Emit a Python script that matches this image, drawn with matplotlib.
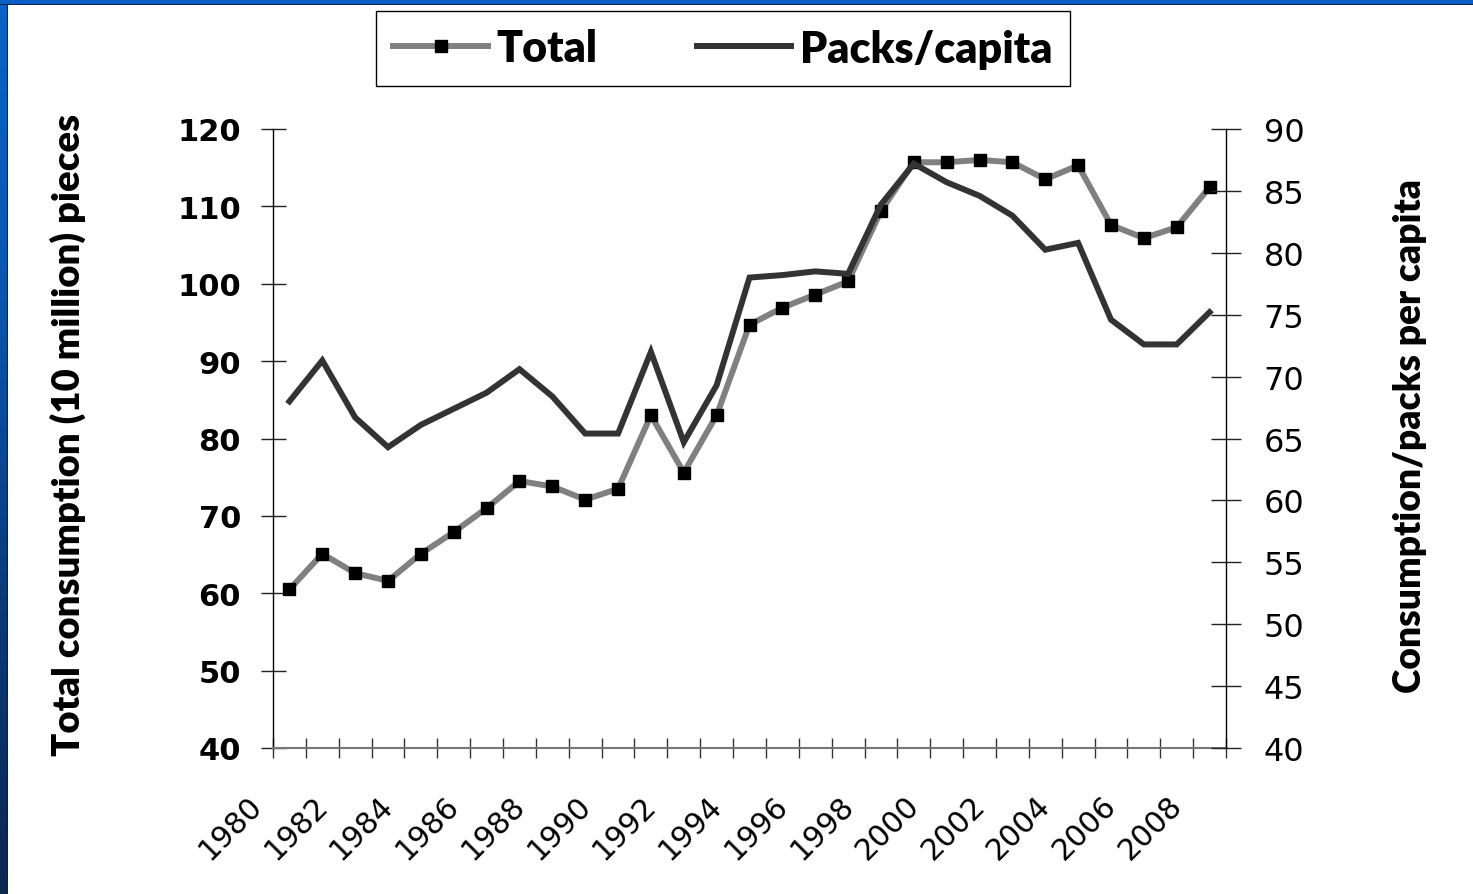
import matplotlib
matplotlib.use('Agg')
import matplotlib.pyplot as plt
import numpy as np
from matplotlib.transforms import blended_transform_factory, ScaledTranslation
from matplotlib.patches import Rectangle
from matplotlib.colors import LinearSegmentedColormap

# ---------------- data ----------------
years = list(range(1980, 2009))
total = [60.5, 65.1, 62.6, 61.6, 65.1, 67.9, 71.0, 74.5, 73.8, 72.1,
         73.5, 83.0, 75.6, 83.0, 94.7, 96.9, 98.6, 100.3, 109.4, 115.7,
         115.7, 116.0, 115.7, 113.5, 115.3, 107.6, 105.9, 107.3, 112.5]
packs = [68.0, 71.3, 66.7, 64.3, 66.1, 67.4, 68.7, 70.6, 68.4, 65.4,
         65.4, 72.0, 64.7, 69.3, 78.0, 78.2, 78.5, 78.3, 83.9, 87.2,
         85.7, 84.6, 83.0, 80.25, 80.8, 74.6, 72.6, 72.6, 75.2]
left_ticks = [40, 50, 60, 70, 80, 90, 100, 110, 120]
right_ticks = [40, 45, 50, 55, 60, 65, 70, 75, 80, 85, 90]
label_total = "Total"
label_packs = "Packs/capita"
ylabel_left = "Total consumption (10 million) pieces"
ylabel_right = "Consumption/packs per capita"

W, H = 1473, 895
fig = plt.figure(figsize=(W / 100, H / 100), dpi=100)
fig.patch.set_facecolor('white')

# slide border decoration
fig.patches.append(Rectangle((0, 1 - 5 / H), 1, 5 / H, transform=fig.transFigure,
                             facecolor='#0b5fc4', edgecolor='none', zorder=0))
fig.patches.append(Rectangle((0, 1 - 6 / H), 1, 1.5 / H, transform=fig.transFigure,
                             facecolor='#0d2550', edgecolor='none', zorder=0))
bax = fig.add_axes([0, 0, 8 / W, 1])
grad = np.linspace(0, 1, 256).reshape(-1, 1)
cmap = LinearSegmentedColormap.from_list('b', ['#0a62c8', '#0a55b0', '#0a3a7a', '#0a2850'])
bax.imshow(grad, aspect='auto', cmap=cmap, extent=[0, 1, 0, 1])
bax.axvline(0.95, color='#0d2040', lw=1.5)
bax.set_axis_off()

# ---------------- main axes ----------------
L, R, T, B = 273, 1226, 130, 749
ax = fig.add_axes([L / W, 1 - B / H, (R - L) / W, (B - T) / H])
ax2 = ax.twinx()
x = np.arange(len(years))

ln1, = ax.plot(x, total, color='#808080', lw=4.3, marker='s', markersize=8.5,
               markerfacecolor='black', markeredgecolor='black', label=label_total,
               solid_joinstyle='miter', zorder=3)
ln2, = ax2.plot(x, packs, color='#333333', lw=4.3, label=label_packs,
                solid_joinstyle='miter', zorder=3)

ax.set_xlim(-0.5, len(years) - 0.5)
ax.set_ylim(40, 120)
ax2.set_ylim(40, 90)

for a in (ax, ax2):
    a.spines['top'].set_visible(False)
    a.set_facecolor('none')
ax.spines['left'].set_color('black')
ax.spines['left'].set_linewidth(1.0)
ax2.spines['right'].set_color('black')
ax2.spines['right'].set_linewidth(1.0)
ax2.spines['left'].set_visible(False)
ax2.spines['bottom'].set_visible(False)
ax.spines['right'].set_visible(False)
ax.spines['bottom'].set_color('#777777')
ax.spines['bottom'].set_linewidth(1.5)

# x ticks at category boundaries
ax.set_xticks(np.arange(-0.5, len(years), 1.0))
ax.set_xticklabels([])
ax.tick_params(axis='x', direction='inout', length=15, width=1.0, color='#333333')

ax.set_yticks(left_ticks)
ax.set_yticklabels([str(v) for v in left_ticks], fontsize=22, fontweight='bold',
                   family='DejaVu Sans')
ax.tick_params(axis='y', direction='inout', length=18, width=1.0, color='#222222', pad=14)

ax2.set_yticks(right_ticks)
ax2.set_yticklabels([str(v) for v in right_ticks], fontsize=23, family='DejaVu Sans')
ax2.tick_params(axis='y', direction='inout', length=22, width=1.0, color='#222222', pad=16)

# rotated year labels every two categories
trans = blended_transform_factory(ax.transData, ax.transAxes) + \
    ScaledTranslation(-0.32, -0.52, fig.dpi_scale_trans)
for k in range(0, len(years), 2):
    ax.text(x[k], 0, str(years[k]), transform=trans, rotation=45, ha='right',
            va='center', rotation_mode='anchor', fontsize=21.5, family='DejaVu Sans')

# axis titles
fig.text(68 / W, 1 - 435 / H, ylabel_left, rotation=90, ha='center', va='center',
         fontsize=27.5, fontweight='heavy', family='Lato')
fig.text(1410 / W, 1 - 436 / H, ylabel_right, rotation=90, ha='center', va='center',
         fontsize=26.7, fontweight='heavy', family='Lato')

# legend
leg = fig.legend([ln1, ln2], [label_total, label_packs], ncol=2, loc='center',
                 bbox_to_anchor=(723 / W, 1 - 49.5 / H), frameon=True, fancybox=False,
                 edgecolor='black', framealpha=1, handlelength=2.2, handletextpad=0.2,
                 columnspacing=2.3, borderpad=0.4,
                 prop={'family': 'Lato', 'weight': 'heavy', 'size': 31})
leg.get_frame().set_linewidth(1.0)

fig.savefig('out.png', dpi=100, facecolor=fig.get_facecolor())
